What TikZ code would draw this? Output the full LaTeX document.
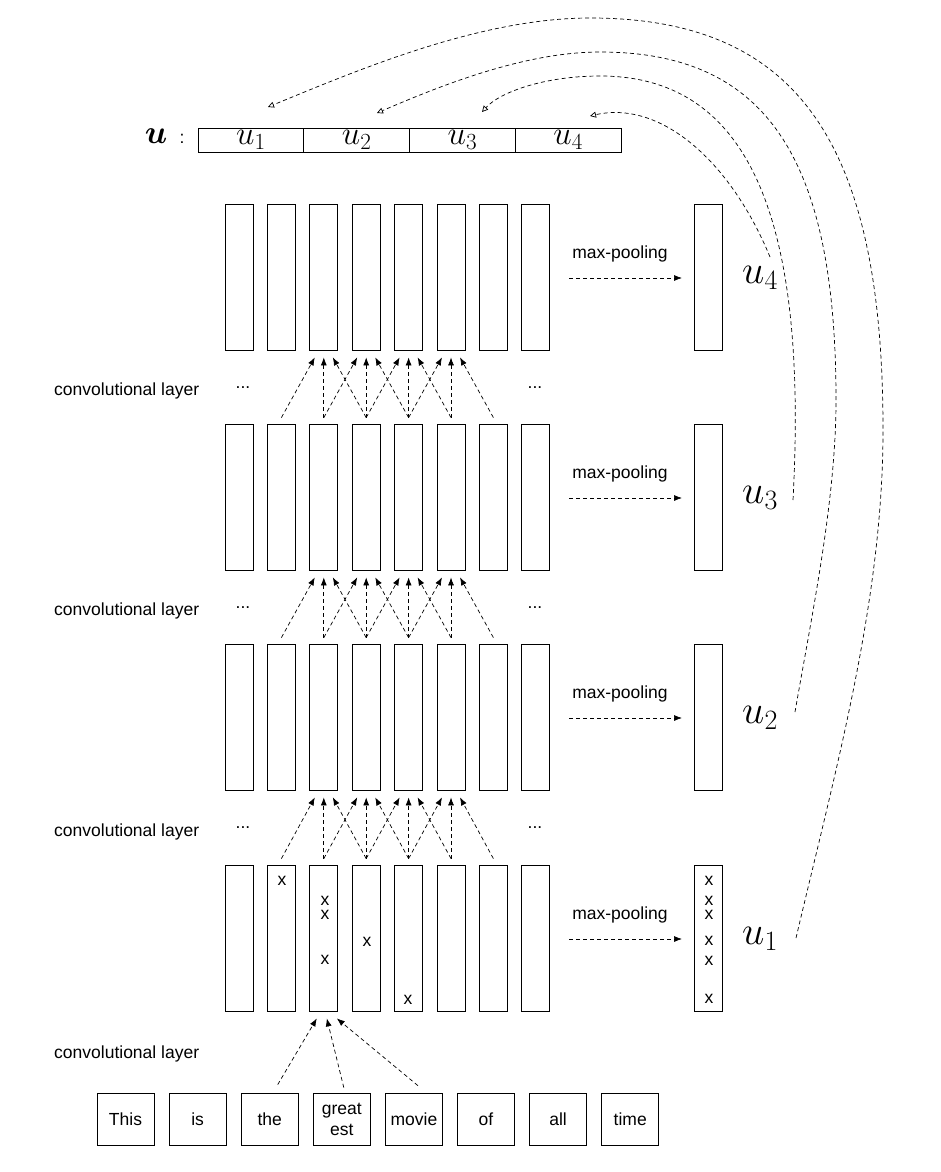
\RequirePackage{fix-cm}
\documentclass[tikz,border=0pt]{standalone}
\usepackage{amsmath}
\usepackage[no-math]{fontspec}
\newfontfamily\hv{Liberation Sans}
\usetikzlibrary{arrows.meta,calc}
\tikzset{
  col/.style={draw, line width=0.8pt, minimum width=28pt, minimum height=146pt, inner sep=0pt},
  word/.style={draw, line width=0.8pt, minimum width=57pt, minimum height=52pt, inner sep=0pt, align=center, font=\hv\fontsize{17.5}{21}\selectfont},
  cell/.style={draw, line width=0.8pt, minimum width=105.75pt, minimum height=24pt, inner sep=0pt, font=\fontsize{33}{40}\selectfont},
  lbl/.style={font=\hv\fontsize{17.5}{21}\selectfont, inner sep=0pt},
  xm/.style={font=\hv\fontsize{17.5}{21}\selectfont, inner sep=0pt},
  ulab/.style={font=\fontsize{40}{48}\selectfont, inner sep=0pt},
  dsh/.style={dash pattern=on 4pt off 3pt, line width=0.7pt},
  conv/.style={dsh, -{Latex[length=8pt,width=6pt]}},
  back/.style={dsh, -{Triangle[open,length=6pt,width=6pt]}},
}
\begin{document}
\begin{tikzpicture}[x=1pt,y=-1pt]
\useasboundingbox (0,0) rectangle (940,1172);

% feature-map layers
\foreach \l/\yc in {1/938,2/717,3/497,4/277}{
  \foreach \k in {0,...,7}{
    \node[col] (n\l-\k) at ({239+42.4*\k},\yc) {};
  }
  \node[col] (p\l) at (708.5,\yc) {};
  \node[lbl] (mp\l) at (620,\yc-23) {max-pooling};
  \coordinate (ps\l) at (569,\yc+1);
  \coordinate (pe\l) at (682,\yc+1);
  \draw[conv] (ps\l) -- (pe\l);
  \node[ulab, anchor=base west] (ul\l) at (742,\yc+6) {$u_\l$};
}

% convolutional layer labels and dots
\foreach \i/\yy in {1/1054,2/832,3/611,4/391}{
  \node[lbl, anchor=west] (cl\i) at (54,\yy) {convolutional layer};
}
\foreach \i/\yy in {2/828,3/608,4/388}{
  \node[lbl] (dl\i) at (243,\yy) {...};
  \node[lbl] (dr\i) at (535,\yy) {...};
}

% arrows between layers
\foreach \l in {1,2,3}{
  \pgfmathtruncatemacro\up{\l+1}
  \foreach \j in {2,...,5}{
    \pgfmathtruncatemacro\jm{\j-1}
    \pgfmathtruncatemacro\jp{\j+1}
    \draw[conv] ($(n\l-\jm.north)+(0,-6)$) -- ($(n\up-\j.south)+(-9,7)$);
    \draw[conv] ($(n\l-\j.north)+(0,-6)$) -- ($(n\up-\j.south)+(0,7)$);
    \draw[conv] ($(n\l-\jp.north)+(0,-6)$) -- ($(n\up-\j.south)+(9,7)$);
  }
}

% x marks
\node[xm] (x1) at (282,881) {x};
\node[xm] (x2) at (325,901) {x};
\node[xm] (x3) at (325,915) {x};
\node[xm] (x4) at (325,960) {x};
\node[xm] (x5) at (367,942) {x};
\node[xm] (x6) at (408,1000) {x};
\foreach \i/\yy in {1/881,2/901,3/915,4/941,5/961,6/999}{
  \node[xm] (px\i) at (709,\yy) {x};
}

% words
\foreach \w [count=\i from 0] in {This,is,the,{great\\est},movie,of,all,time}{
  \node[word] (w\i) at ({125.5+72.1*\i},1119) {\w};
}
\draw[conv] ($(w2.north)+(8,-8)$) -- ($(n1-2.south)+(-7,7)$);
\draw[conv] ($(w3.north)+(2,-5)$) -- ($(n1-2.south)+(3,7)$);
\draw[conv] ($(w4.north)+(4,-7)$) -- ($(n1-2.south)+(13,7)$);

% top vector
\node[font=\fontsize{33}{40}\selectfont, inner sep=0pt, anchor=base] (ubold) at (156,143) {$\boldsymbol{u}$};
\node[lbl, anchor=base] (ucolon) at (182,143) {:};
\foreach \i in {1,...,4}{
  \node[cell] (c\i) at ({198+105.75*(\i-0.5)},140) {$u_\i$};
}

% curved back arrows
\coordinate (s1) at (796,938);
\coordinate (e1) at (268,107);
\coordinate (s2) at (795,712);
\coordinate (e2) at (377,113);
\coordinate (s3) at (793,500);
\coordinate (e3) at (482,112);
\coordinate (s4) at (770,257);
\coordinate (e4) at (590,116);
\draw[back] (s1) .. controls (836,768) and (883,600) .. (883,430)
  .. controls (883,143) and (798,18) .. (590,18)
  .. controls (480,18) and (358,70) .. (e1);
\draw[back] (s2) .. controls (812,614) and (836,500) .. (836,400)
  .. controls (836,156) and (765,52) .. (600,52)
  .. controls (525,52) and (442,85) .. (e2);
\draw[back] (s3) .. controls (808,220) and (750,76) .. (600,76)
  .. controls (545,76) and (500,92) .. (e3);
\draw[back] (s4) .. controls (730,160) and (660,100) .. (e4);
\end{tikzpicture}
\end{document}
